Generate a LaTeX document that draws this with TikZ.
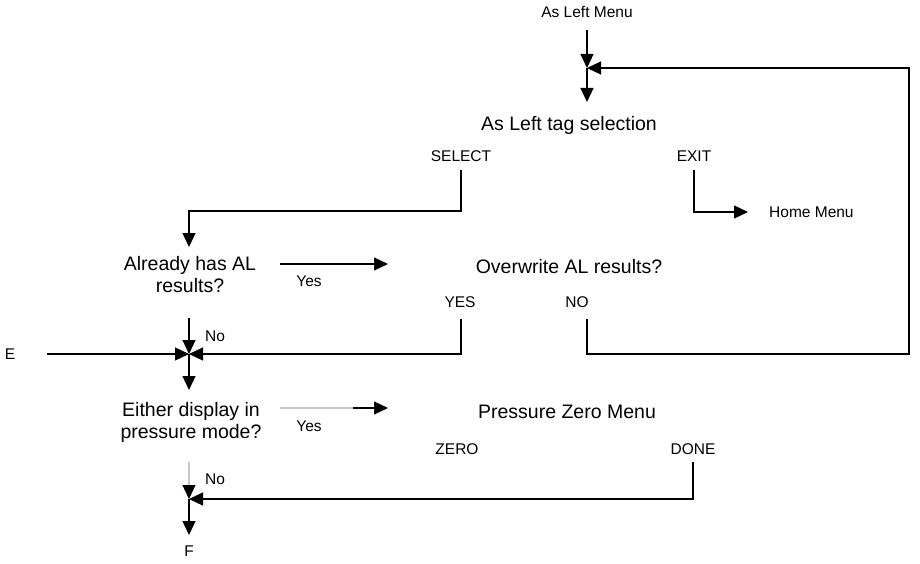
\documentclass[tikz,border=0pt]{standalone}
\usepackage{fontspec}
\setmainfont{Liberation Sans}
\usetikzlibrary{arrows.meta}
\begin{document}
\begin{tikzpicture}[x=1pt,y=-1pt,
  big/.style={font=\fontsize{19.5}{21.5}\selectfont, inner sep=0pt, anchor=base},
  small/.style={font=\fontsize{15.5}{17}\selectfont, inner sep=0pt, anchor=base},
  twoline/.style={big, align=center},
  conn/.style={line width=1.2pt, black},
  arr/.style={conn, -{Triangle[length=14pt,width=13pt]}},
  faint/.style={line width=1.2pt, black!22}]
\useasboundingbox (0,0) rectangle (920,564);
% texts
\node[small] (alm) at (587,18) {As Left Menu};
\node[big] (alts) at (569,131) {As Left tag selection};
\node[small] (sel) at (461,161) {SELECT};
\node[small] (exit) at (694,161) {EXIT};
\node[small, anchor=base west] (home) at (769,217) {Home Menu};
\node[twoline] (already) at (190,292) {Already has AL\\results?};
\node[small] (yes1) at (309,286) {Yes};
\node[big] (overwrite) at (569,273) {Overwrite AL results?};
\node[small] (yesb) at (460,307) {YES};
\node[small] (nob) at (577,307) {NO};
\node[small] (e) at (10,359) {E};
\node[small] (no1) at (215,341) {No};
\node[twoline] (either) at (191,438) {Either display in\\pressure mode?};
\node[small] (yes2) at (309,431) {Yes};
\node[big] (pzm) at (567,418) {Pressure Zero Menu};
\node[small] (zero) at (457,454) {ZERO};
\node[small] (done) at (693,454) {DONE};
\node[small] (no2) at (215,484) {No};
\node[small] (f) at (189,556) {F};
% coordinates
\coordinate (t1) at (587,30);
\coordinate (j1) at (587,68);
\coordinate (t2) at (587,102);
\coordinate (s0) at (461,170);
\coordinate (s1) at (461,211);
\coordinate (s2) at (189,211);
\coordinate (s3) at (189,247);
\coordinate (x0) at (694,170);
\coordinate (x1) at (694,212);
\coordinate (x2) at (748,212);
\coordinate (y1a) at (280,264);
\coordinate (y1b) at (388,264);
\coordinate (yb0) at (461,319);
\coordinate (yb1) at (461,354);
\coordinate (j2) at (189,354);
\coordinate (n0) at (587,319);
\coordinate (n1) at (587,354);
\coordinate (n2) at (909,354);
\coordinate (n3) at (909,68);
\coordinate (e0) at (47,354);
\coordinate (r0) at (189,318);
\coordinate (d2) at (189,390);
\coordinate (y2a) at (280,408);
\coordinate (y2m) at (353,408);
\coordinate (y2b) at (388,408);
\coordinate (dn0) at (693,462);
\coordinate (dn1) at (693,499);
\coordinate (j3) at (189,499);
\coordinate (g0) at (189,462);
\coordinate (d3) at (189,535);
% connectors
\draw[arr] (t1) -- (j1);
\draw[arr] (j1) -- (t2);
\draw[arr] (n0) -- (n1) -- (n2) -- (n3) -- (j1);
\draw[arr] (s0) -- (s1) -- (s2) -- (s3);
\draw[arr] (x0) -- (x1) -- (x2);
\draw[arr] (y1a) -- (y1b);
\draw[arr] (r0) -- (j2);
\draw[arr] (e0) -- (j2);
\draw[arr] (yb0) -- (yb1) -- (j2);
\draw[arr] (j2) -- (d2);
\draw[faint] (y2a) -- (y2m);
\draw[arr] (y2m) -- (y2b);
\draw[faint, -{Triangle[length=14pt,width=13pt,fill=black,color=black]}] (g0) -- (j3);
\draw[arr] (dn0) -- (dn1) -- (j3);
\draw[arr] (j3) -- (d3);
\end{tikzpicture}
\end{document}
